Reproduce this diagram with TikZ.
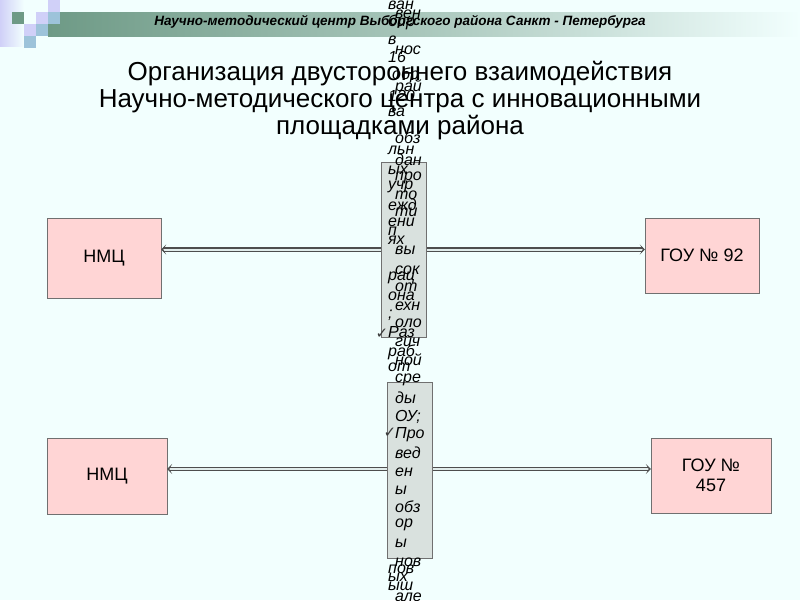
\documentclass[tikz,border=0pt]{standalone}
\usepackage{fontspec}
\setmainfont{Liberation Sans}
\newfontfamily\symfont{DejaVu Sans}
\usetikzlibrary{arrows.meta,positioning,calc}
\definecolor{slidebg}{HTML}{F2FFFE}
\definecolor{hdgreen}{HTML}{6E9A86}
\definecolor{hdlav}{HTML}{D0D0F8}
\definecolor{hdblue}{HTML}{9DC3DA}
\definecolor{boxpink}{HTML}{FFD5D5}
\definecolor{boxgrey}{HTML}{D9E1DE}
\definecolor{edgegrey}{HTML}{707070}
\newcommand{\fsz}[1]{\fontsize{#1}{#1}\selectfont}

\begin{document}
\begin{tikzpicture}[x=1pt, y=-1pt,
  org/.style={draw=edgegrey, fill=boxpink, align=center, inner sep=0pt,
              font=\fsz{18}},
  mid/.style={draw=edgegrey, fill=boxgrey, inner sep=0pt,
               minimum width=45pt, minimum height=176pt},
  link/.style={draw=edgegrey!70!black, double=slidebg!85!gray, double distance=2pt,
               line width=1.2pt, {Stealth[length=5pt,width=10pt,inset=3pt]}-{Stealth[length=5pt,width=10pt,inset=3pt]}},
  frag/.style={anchor=west, inner sep=0pt, font=\fsz{16}\itshape},
  tick/.style={inner sep=0pt, font=\symfont\fsz{15}, text=edgegrey!50!black}]

\useasboundingbox[fill=slidebg] (0,0) rectangle (800,600);

% ---------------- header ----------------
\shade[left color=hdlav, right color=slidebg] (0,0) rectangle (24,46);
\shade[left color=hdgreen, right color=slidebg, middle color=hdgreen!55!slidebg]
  (48,12) rectangle (800,36);
\fill[hdgreen] (12,12) rectangle (24,24);
\fill[hdlav] (36,12) rectangle (48,24);
\fill[hdlav] (48,0) rectangle (60,12);
\fill[hdlav] (24,24) rectangle (36,36);
\fill[hdblue] (48,12) rectangle (60,24);
\fill[hdblue] (36,24) rectangle (48,36);
\fill[hdblue] (24,36) rectangle (36,48);
\node[font=\fsz{13.5}\bfseries\itshape] (hdr) at (400,22)
  {Научно-методический центр Выборгского района Санкт - Петербурга};

% ---------------- title ----------------
\node[align=center, font=\fsz{26}] (title) at (400,101)
  {Организация двустороннего взаимодействия\\[1pt]
   Научно-методического центра с инновационными\\[1pt]
   площадками района};

% ---------------- boxes ----------------
\node[org, minimum width=114pt, minimum height=80pt] (nmc1) at (104,258) {НМЦ};
\node[org, minimum width=114pt, minimum height=75pt] (gou92) at (702,255.5) {ГОУ № 92};
\node[org, minimum width=120pt, minimum height=76pt] (nmc2) at (107,476) {НМЦ};
\node[org, minimum width=120pt, minimum height=75pt] (gou457) at (711,475.5)
  {ГОУ №\\[2pt]457};

\coordinate (up) at (403.5,249.5);
\coordinate (low) at (409.5,469);
\draw[link] (nmc1.east |- up) -- (gou92.west |- up);
\draw[link] (nmc2.east |- low) -- (gou457.west |- low);

\node[mid, minimum height=175pt] (mid1) at (up) {};
\node[mid] (mid2) at (409.5,470) {};

% ---------------- overflowing text ----------------
\foreach \y/\t in {5/ван, 22/бир, 40/в, 57/16, 96/120, 112/ва, 122/., 150/льн,
                   170/ых, 187/учр, 205/ежд, 222/ени, 231/п, 240/ях, 278/рац,
                   296/она, 315/;, 332/Раз, 352/раб, 367/от, 569/пов, 577/ых,
                   586/ыш}{
  \node[frag] at (388,\y) {\t};}
\node[frag] at (392,75) {обр};
\foreach \y/\t in {14/вен, 50/нос, 87/рай, 138/обз, 160/дан, 178/про, 195/то,
                   212/ти, 250/вы, 270/сок, 287/от, 306/ехн, 323/оло, 342/гич,
                   360/ной, 380/сре, 398/ды, 417/ОУ;, 435/Про, 453/вед, 472/ен,
                   490/ы, 507/обз, 525/ор, 543/ы, 562/нов, 597/але}{
  \node[frag] at (395,\y) {\t};}
\node[tick] (tk1) at (382,334) {✓};
\node[tick] (tk2) at (390,433) {✓};

\end{tikzpicture}
\end{document}
